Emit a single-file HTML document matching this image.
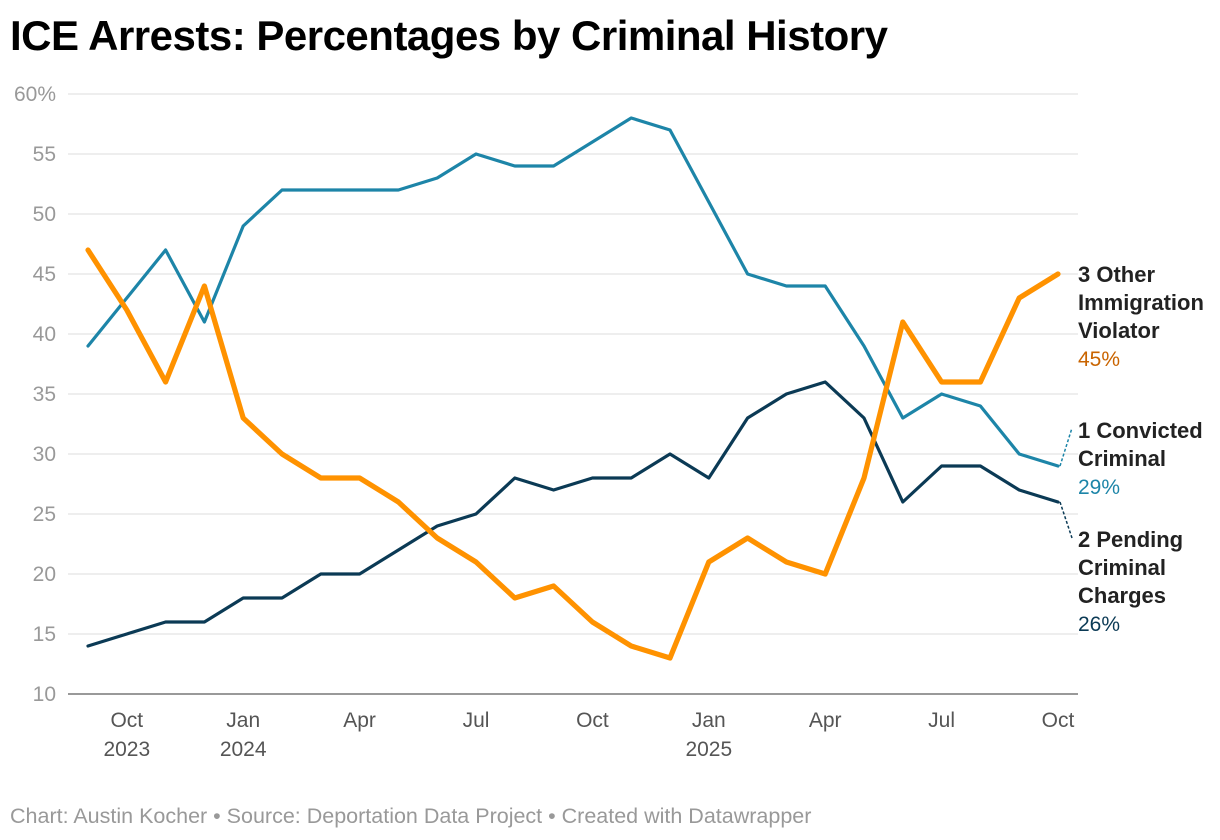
<!DOCTYPE html>
<html><head><meta charset="utf-8"><style>
body{margin:0;background:#fff;font-family:"Liberation Sans",Roboto,sans-serif;}
#wrap{position:relative;width:1220px;height:840px;overflow:hidden;}
h1{position:absolute;left:10px;top:12px;margin:0;font-size:42px;font-weight:bold;color:#000;letter-spacing:-0.5px;}
#foot{position:absolute;left:10px;top:804px;font-size:21.5px;color:#999;}
</style></head><body>
<div id="wrap">
<h1>ICE Arrests: Percentages by Criminal History</h1>
<svg id="chart" width="1220" height="840" style="position:absolute;left:0;top:0"></svg>
<div id="foot">Chart: Austin Kocher • Source: Deportation Data Project • Created with Datawrapper</div>
</div>
<script>
const months = ["Sep 2023","Oct 2023","Nov 2023","Dec 2023","Jan 2024","Feb 2024","Mar 2024","Apr 2024","May 2024","Jun 2024","Jul 2024","Aug 2024","Sep 2024","Oct 2024","Nov 2024","Dec 2024","Jan 2025","Feb 2025","Mar 2025","Apr 2025","May 2025","Jun 2025","Jul 2025","Aug 2025","Sep 2025","Oct 2025"];
const convicted = [39,43,47,41,49,52,52,52,52,53,55,54,54,56,58,57,51,45,44,44,39,33,35,34,30,29];
const otherImm = [47,42,36,44,33,30,28,28,26,23,21,18,19,16,14,13,21,23,21,20,28,41,36,36,43,45];
const pending = [14,15,16,16,18,18,20,20,22,24,25,28,27,28,28,30,28,33,35,36,33,26,29,29,27,26];
const yTicks = [10,15,20,25,30,35,40,45,50,55,60];
const xTickIdx = [1,4,7,10,13,16,19,22,25];
const xTickTop = ["Oct","Jan","Apr","Jul","Oct","Jan","Apr","Jul","Oct"];
const xTickBottom = ["2023","2024","","","","2025","","",""];

const svg=document.getElementById('chart');
const NS='http://www.w3.org/2000/svg';
const x=i=>88+i*38.8;
const y=v=>694-(v-10)*12;
function mk(t,a){const e=document.createElementNS(NS,t);for(const k in a)e.setAttribute(k,a[k]);svg.appendChild(e);return e;}
yTicks.forEach(v=>{
  const l=mk('line',{x1:68,x2:1078,y1:y(v),y2:y(v),stroke:v===10?'#333':'#ddd','stroke-width':1});
  
  
  const t=mk('text',{x:56,y:y(v)+7,'text-anchor':'end','font-size':21,fill:'#999','font-family':'Liberation Sans, sans-serif'});
  t.textContent=v===60?'60%':v;
  
  
});
xTickIdx.forEach((idx,j)=>{
  const t=mk('text',{x:x(idx),y:727,'text-anchor':'middle','font-size':21,fill:'#555','font-family':'Liberation Sans, sans-serif'});
  t.textContent=xTickTop[j];
  
  
  if(xTickBottom[j]){
    const b=mk('text',{x:x(idx),y:756,'text-anchor':'middle','font-size':21,fill:'#555','font-family':'Liberation Sans, sans-serif'});
    b.textContent=xTickBottom[j];
    
    
  }
});
function line(data,color,w,name){
  const p=mk('polyline',{points:data.map((v,i)=>x(i)+','+y(v)).join(' '),fill:'none',stroke:color,'stroke-width':w,'stroke-linejoin':'round','stroke-linecap':'round'});
  
  
}
line(convicted,'#1d85a8',3.2,'convicted-criminal-line');
line(pending,'#0b3a55',3.2,'pending-charges-line');
line(otherImm,'#ff9200',5.2,'other-immigration-line');
const L=convicted.length-1;
function dash(v,ty,color,name){
  const d=mk('line',{x1:x(L)+2,y1:y(v),x2:1072,y2:ty,stroke:color,'stroke-width':1.5,'stroke-dasharray':'3,2'});
  
  
}
dash(convicted[L],428,'#1d85a8','convicted-label-connector');
dash(pending[L],538,'#0b3a55','pending-label-connector');
function label(lines,val,color,top,name){
  lines.forEach((s,i)=>{
    const t=mk('text',{x:1078,y:top+i*28,'font-size':22,'font-weight':'bold',fill:'#222','font-family':'Liberation Sans, sans-serif'});
    t.textContent=s;
    
    
  });
  const t=mk('text',{x:1078,y:top+lines.length*28,'font-size':21,fill:color,'font-family':'Liberation Sans, sans-serif'});
  t.textContent=val+'%';
  
  
}
label(['3 Other','Immigration','Violator'],otherImm[L],'#c96400',282,'other-immigration-label');
label(['1 Convicted','Criminal'],convicted[L],'#1d85a8',438,'convicted-label');
label(['2 Pending','Criminal','Charges'],pending[L],'#0b3a55',547,'pending-label');
</script>
</body></html>
